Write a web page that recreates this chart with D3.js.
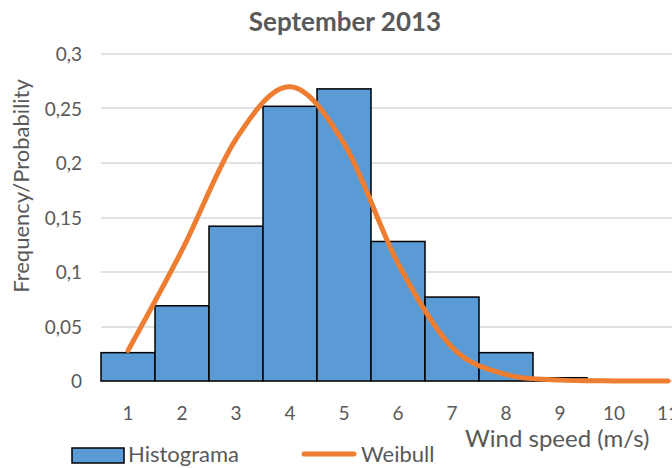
<!DOCTYPE html>
<html>
<head>
<meta charset="utf-8">
<title>September 2013</title>
<script src="https://cdn.jsdelivr.net/npm/d3@7"></script>
<style>
  body { margin: 0; background: #fff; }
  text { font-family: Lato, "Open Sans", sans-serif; fill: #595959; }
</style>
</head>
<body>
<div id="chart"></div>
<script>
// data
var categories = [1, 2, 3, 4, 5, 6, 7, 8, 9, 10, 11];
var histograma = [0.026, 0.069, 0.142, 0.252, 0.268, 0.128, 0.077, 0.026, 0.003, 0, 0];
var weibull = [0.028, 0.12, 0.222, 0.27, 0.218, 0.108, 0.031, 0.006, 0.0008, 0.0001, 0];
var yTicks = [0, 0.05, 0.1, 0.15, 0.2, 0.25, 0.3];

var w = 672, h = 468;
var plotLeft = 101, plotTop = 54, plotBottom = 381;
var bandW = 54;

var svg = d3.select("#chart").append("svg")
    .attr("width", w)
    .attr("height", h);

var x = d3.scaleBand()
    .domain(categories)
    .range([plotLeft, plotLeft + bandW * categories.length])
    .padding(0);

var y = d3.scaleLinear()
    .domain([0, 0.3])
    .range([plotBottom, plotTop]);

var fmt = function (d) { return String(d).replace(".", ","); };

// gridlines
svg.append("g").selectAll("line")
    .data(yTicks)
    .enter().append("line")
    .attr("x1", plotLeft).attr("x2", w)
    .attr("y1", function (d) { return Math.round(y(d)); })
    .attr("y2", function (d) { return Math.round(y(d)); })
    .attr("stroke", "#d9d9d9")
    .attr("stroke-width", 1.5);

// y tick labels
svg.append("g").selectAll("text")
    .data(yTicks)
    .enter().append("text")
    .attr("x", 82)
    .attr("y", function (d) { return y(d) + 7; })
    .attr("text-anchor", "end")
    .style("font-size", "19px")
    .text(fmt);

// x tick labels
svg.append("g").selectAll("text")
    .data(categories)
    .enter().append("text")
    .attr("x", function (d) { return x(d) + x.bandwidth() / 2; })
    .attr("y", 420)
    .attr("text-anchor", "middle")
    .style("font-size", "19px")
    .text(function (d) { return d; });

// histogram bars
svg.append("g").selectAll("rect")
    .data(histograma)
    .enter().append("rect")
    .attr("x", function (d, i) { return x(categories[i]); })
    .attr("y", function (d) { return y(d); })
    .attr("width", x.bandwidth())
    .attr("height", function (d) { return plotBottom - y(d); })
    .attr("fill", "#5b9bd5")
    .attr("stroke", "#000")
    .attr("stroke-width", 1.5);

// weibull curve (smoothed like excel)
var line = d3.line()
    .x(function (d, i) { return x(categories[i]) + x.bandwidth() / 2; })
    .y(function (d) { return y(d); })
    .curve(d3.curveCatmullRom.alpha(0));

svg.append("path")
    .datum(weibull)
    .attr("d", line)
    .attr("fill", "none")
    .attr("stroke", "#ed7d31")
    .attr("stroke-width", 5)
    .attr("stroke-linecap", "round");

// title
svg.append("text")
    .attr("x", 345)
    .attr("y", 31)
    .attr("text-anchor", "middle")
    .style("font-size", "26px")
    .style("font-weight", "bold")
    .text("September 2013");

// axis titles
svg.append("text")
    .attr("transform", "translate(29,186) rotate(-90)")
    .attr("text-anchor", "middle")
    .style("font-size", "22px")
    .text("Frequency/Probability");

svg.append("text")
    .attr("x", 465)
    .attr("y", 447)
    .style("font-size", "24px")
    .text("Wind speed (m/s)");

// legend
var legend = svg.append("g");
legend.append("rect")
    .attr("x", 72).attr("y", 448)
    .attr("width", 52).attr("height", 15)
    .attr("fill", "#5b9bd5")
    .attr("stroke", "#000")
    .attr("stroke-width", 1.5);
legend.append("text")
    .attr("x", 128).attr("y", 462)
    .style("font-size", "22px")
    .text("Histograma");
legend.append("line")
    .attr("x1", 304).attr("x2", 354)
    .attr("y1", 454).attr("y2", 454)
    .attr("stroke", "#ed7d31")
    .attr("stroke-width", 5)
    .attr("stroke-linecap", "round");
legend.append("text")
    .attr("x", 361).attr("y", 462)
    .style("font-size", "22px")
    .text("Weibull");
</script>
</body>
</html>
